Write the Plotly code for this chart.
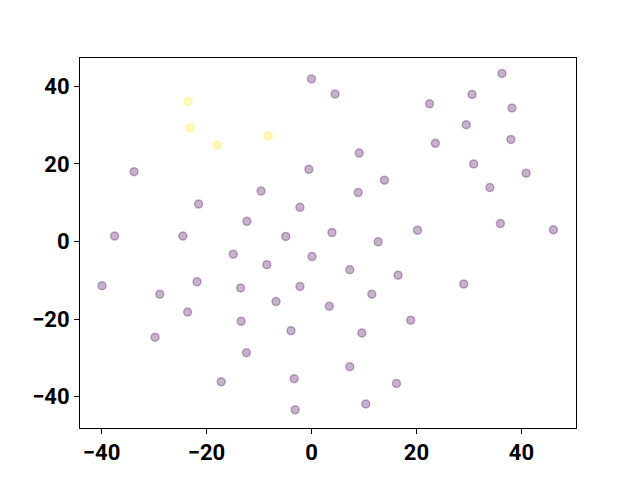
import plotly.graph_objects as go

# purple group (label 0)
x_a = [0.0, -33.8, -0.5, -9.6, -21.5, -2.2, -12.3, -37.5, -24.5, -4.9,
       36.3, 4.5, 30.6, 22.5, 38.2, 29.5, 38.0, 23.6, 9.1, 30.9,
       40.9, 13.9, 8.9, 34.0, 3.9, 12.7, 20.2, 36.0, 46.1,
       -14.9, -8.5, 0.1, -39.9, -21.8, -28.9, -13.5, -2.2, -6.75, -23.6,
       -13.4, -29.8, -3.9, -12.4, -17.2, -3.3, -3.1,
       7.3, 16.5, 29.0, 11.5, 3.4, 18.9, 9.6, 7.3, 16.2, 10.35]
y_a = [41.9, 18.0, 18.6, 13.0, 9.65, 8.8, 5.2, 1.4, 1.4, 1.3,
       43.3, 38.0, 37.9, 35.5, 34.4, 30.1, 26.3, 25.3, 22.8, 20.0,
       17.6, 15.8, 12.6, 13.9, 2.3, -0.1, 2.9, 4.6, 3.0,
       -3.3, -6.0, -3.9, -11.4, -10.4, -13.6, -12.0, -11.6, -15.5, -18.2,
       -20.6, -24.7, -23.0, -28.7, -36.2, -35.4, -43.4,
       -7.3, -8.7, -11.0, -13.6, -16.7, -20.3, -23.6, -32.3, -36.6, -41.9]

# yellow group (label 1)
x_b = [-23.5, -23.1, -18.0, -8.2]
y_b = [36.1, 29.3, 24.9, 27.2]

groups = [
    (x_a, y_a, "rgba(68,1,84,0.3)"),
    (x_b, y_b, "rgba(253,231,37,0.3)"),
]

fig = go.Figure()
for xs, ys, col in groups:
    fig.add_trace(go.Scatter(
        x=xs, y=ys, mode="markers",
        marker=dict(size=8, color=col, line=dict(color=col, width=1.5)),
        showlegend=False,
    ))

axis_style = dict(
    showgrid=False, zeroline=False,
    showline=True, linecolor="black", linewidth=1, mirror=True,
    ticks="outside", ticklen=5, tickwidth=1, tickcolor="black",
    tickfont=dict(family="Roboto", size=22, color="black", weight="bold"),
)

fig.update_layout(
    width=640, height=480,
    margin=dict(l=72, r=72, t=50, b=60),
    plot_bgcolor="white", paper_bgcolor="white",
    xaxis=dict(range=[-44.1, 50.4], tickvals=[-40, -20, 0, 20, 40], **axis_style),
    yaxis=dict(range=[-48.1, 47.3], tickvals=[-40, -20, 0, 20, 40], **axis_style),
)

fig.write_html("out.html")
